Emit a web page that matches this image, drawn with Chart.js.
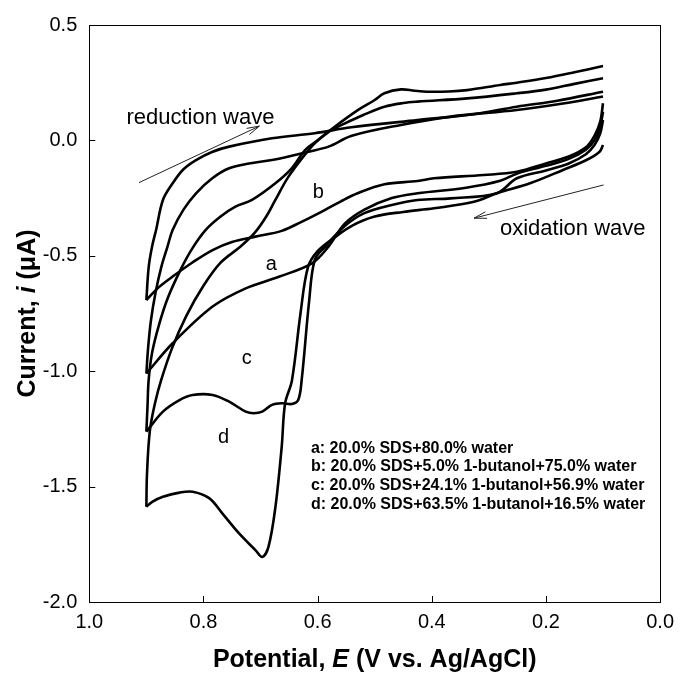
<!DOCTYPE html>
<html>
<head>
<meta charset="utf-8">
<script src="https://cdn.jsdelivr.net/npm/chart.js@4.4.1/dist/chart.umd.min.js"></script>
<style>
  html, body { margin: 0; padding: 0; background: #ffffff; }
  #wrap { width: 682px; height: 680px; }
</style>
</head>
<body>
<div id="wrap"><canvas id="cv" width="682" height="680"></canvas></div>
<script>
// Cyclic voltammograms: each sweep split into the forward (0.1 -> 0.9 V)
// and reverse (0.9 -> 0.1 V) branch. Potential E in V, current i in uA.

// a: 20.0% SDS + 80.0% water
const aFwdE = [0.100,0.105,0.115,0.130,0.160,0.200,0.250,0.280,0.340,0.425,0.470,0.518,0.552,0.581,0.610,0.668,0.726,0.784,0.854,0.900];
const aFwdI = [0.124,0.060,0.000,-0.040,-0.080,-0.110,-0.143,-0.175,-0.205,-0.229,-0.250,-0.300,-0.360,-0.460,-0.533,-0.591,-0.641,-0.720,-0.879,-1.010];
const aRevE = [0.900,0.897,0.892,0.884,0.874,0.863,0.854,0.835,0.813,0.785,0.755,0.720,0.680,0.616,0.581,0.540,0.454,0.367,0.251,0.170,0.100];
const aRevI = [-1.010,-0.900,-0.780,-0.660,-0.550,-0.460,-0.388,-0.300,-0.229,-0.165,-0.121,-0.100,-0.085,-0.049,-0.027,0.020,0.067,0.103,0.132,0.160,0.190];

// b: 20.0% SDS + 5.0% 1-butanol + 75.0% water
const bFwdE = [0.100,0.105,0.115,0.130,0.160,0.200,0.251,0.309,0.396,0.425,0.483,0.530,0.560,0.590,0.630,0.663,0.709,0.750,0.784,0.820,0.854,0.880,0.900];
const bFwdI = [0.161,0.080,0.020,-0.030,-0.070,-0.100,-0.136,-0.150,-0.164,-0.176,-0.190,-0.229,-0.265,-0.305,-0.355,-0.392,-0.417,-0.440,-0.475,-0.530,-0.590,-0.640,-0.692];
const bRevE = [0.900,0.896,0.890,0.883,0.871,0.854,0.835,0.813,0.785,0.755,0.680,0.605,0.541,0.425,0.330,0.251,0.180,0.100];
const bRevI = [-0.692,-0.550,-0.460,-0.388,-0.258,-0.186,-0.125,-0.085,-0.050,-0.027,0.009,0.031,0.057,0.088,0.112,0.146,0.172,0.211];

// c: 20.0% SDS + 24.1% 1-butanol + 56.9% water
const cFwdE = [0.100,0.105,0.115,0.130,0.160,0.200,0.251,0.286,0.367,0.425,0.470,0.518,0.552,0.587,0.605,0.615,0.628,0.634,0.645,0.662,0.680,0.697,0.712,0.726,0.755,0.784,0.819,0.842,0.871,0.900];
const cFwdI = [0.088,0.030,-0.020,-0.060,-0.100,-0.130,-0.164,-0.229,-0.251,-0.258,-0.280,-0.315,-0.370,-0.461,-0.518,-0.700,-1.040,-1.125,-1.142,-1.139,-1.146,-1.175,-1.182,-1.175,-1.132,-1.103,-1.103,-1.125,-1.175,-1.262];
const cRevE = [0.900,0.898,0.896,0.890,0.878,0.862,0.840,0.820,0.796,0.770,0.744,0.715,0.674,0.645,0.622,0.600,0.575,0.552,0.520,0.483,0.450,0.425,0.338,0.251,0.200,0.150,0.100];
const cRevI = [-1.262,-1.150,-1.038,-0.920,-0.800,-0.680,-0.560,-0.470,-0.388,-0.330,-0.287,-0.258,-0.186,-0.120,-0.042,0.000,0.045,0.074,0.110,0.146,0.162,0.168,0.182,0.204,0.220,0.245,0.269];

// d: 20.0% SDS + 63.5% 1-butanol + 16.5% water
const dFwdE = [0.100,0.106,0.129,0.170,0.228,0.286,0.326,0.396,0.450,0.500,0.540,0.570,0.600,0.617,0.630,0.645,0.657,0.663,0.674,0.686,0.697,0.709,0.738,0.767,0.790,0.819,0.842,0.871,0.889,0.900];
const dFwdI = [-0.020,-0.049,-0.085,-0.128,-0.186,-0.229,-0.266,-0.294,-0.310,-0.330,-0.370,-0.420,-0.480,-0.550,-0.750,-1.040,-1.140,-1.330,-1.590,-1.760,-1.805,-1.775,-1.702,-1.616,-1.550,-1.522,-1.526,-1.544,-1.565,-1.587];
const dRevE = [0.900,0.899,0.894,0.885,0.874,0.855,0.830,0.800,0.770,0.735,0.710,0.690,0.674,0.651,0.616,0.599,0.570,0.529,0.500,0.483,0.454,0.430,0.408,0.370,0.338,0.280,0.251,0.200,0.150,0.100];
const dRevI = [-1.587,-1.450,-1.260,-1.140,-1.038,-0.900,-0.760,-0.630,-0.530,-0.460,-0.400,-0.330,-0.258,-0.157,-0.042,0.002,0.059,0.132,0.175,0.204,0.221,0.215,0.211,0.212,0.218,0.240,0.250,0.270,0.295,0.322];

// Axis ticks
const xTicks = [1.0, 0.8, 0.6, 0.4, 0.2, 0.0];
const yTicks = [-2.0, -1.5, -1.0, -0.5, 0.0, 0.5];

// Curve letters placed in data coordinates
const curveLetters = ['a', 'b', 'c', 'd'];
const letterE = [0.681, 0.599, 0.724, 0.765];
const letterI = [-0.536, -0.227, -0.944, -1.287];

// Sweep-direction notes and their arrows (tail -> head, data coordinates)
const noteText = ['reduction wave', 'oxidation wave'];
const noteE = [0.935, 0.2805];
const noteI = [0.099, -0.385];
const arrowTailE = [0.913, 0.099];
const arrowTailI = [-0.183, -0.193];
const arrowHeadE = [0.702, 0.326];
const arrowHeadI = [0.062, -0.337];

// Composition key (anchor of first line, data coordinates)
const keyLines = [
  'a: 20.0% SDS+80.0% water',
  'b: 20.0% SDS+5.0% 1-butanol+75.0% water',
  'c: 20.0% SDS+24.1% 1-butanol+56.9% water',
  'd: 20.0% SDS+63.5% 1-butanol+16.5% water'
];
const keyE = 0.6117;
const keyI = -1.334;

const FONT = '"Liberation Sans", Arial, Helvetica, sans-serif';

function pts(E, I) { return E.map((e, k) => ({ x: e, y: I[k] })); }
function branch(E, I) {
  return {
    data: pts(E, I),
    showLine: true,
    borderColor: '#000000',
    borderWidth: 2.6,
    pointRadius: 0,
    tension: 0.35,
    fill: false
  };
}

const datasets = [
  branch(aFwdE, aFwdI), branch(aRevE, aRevI),
  branch(bFwdE, bFwdI), branch(bRevE, bRevI),
  branch(cFwdE, cFwdI), branch(cRevE, cRevI),
  branch(dFwdE, dFwdI), branch(dRevE, dRevI)
];

function arrow(ctx, x0, y0, x1, y1) {
  const ang = Math.atan2(y1 - y0, x1 - x0);
  const L = 13, spread = 0.26;
  ctx.beginPath();
  ctx.moveTo(x0, y0);
  ctx.lineTo(x1, y1);
  ctx.moveTo(x1 - L * Math.cos(ang - spread), y1 - L * Math.sin(ang - spread));
  ctx.lineTo(x1, y1);
  ctx.lineTo(x1 - L * Math.cos(ang + spread), y1 - L * Math.sin(ang + spread));
  ctx.stroke();
}

function mixedText(ctx, parts, cx, cy) {
  let total = 0;
  parts.forEach(p => { ctx.font = p.f; total += ctx.measureText(p.t).width; });
  let x = cx - total / 2;
  ctx.textAlign = 'left';
  ctx.textBaseline = 'middle';
  parts.forEach(p => { ctx.font = p.f; ctx.fillText(p.t, x, cy); x += ctx.measureText(p.t).width; });
}

const decor = {
  id: 'decor',
  afterDatasetsDraw(chart) {
    const { ctx, chartArea: ca, scales: { x, y } } = chart;
    ctx.save();
    ctx.fillStyle = '#000';
    ctx.strokeStyle = '#000';

    // frame
    ctx.lineWidth = 1;
    ctx.strokeRect(Math.round(ca.left) + 0.5, Math.round(ca.top) + 0.5,
                   Math.round(ca.right - ca.left), Math.round(ca.bottom - ca.top));

    // inward tick marks
    ctx.beginPath();
    xTicks.forEach(v => {
      const px = Math.round(x.getPixelForValue(v)) + 0.5;
      ctx.moveTo(px, ca.bottom); ctx.lineTo(px, ca.bottom - 6);
    });
    yTicks.forEach(v => {
      const py = Math.round(y.getPixelForValue(v)) + 0.5;
      ctx.moveTo(ca.left, py); ctx.lineTo(ca.left + 6, py);
    });
    ctx.stroke();

    // curve letters
    ctx.font = '20px ' + FONT;
    ctx.textAlign = 'center';
    ctx.textBaseline = 'middle';
    curveLetters.forEach((t, k) => {
      ctx.fillText(t, x.getPixelForValue(letterE[k]), y.getPixelForValue(letterI[k]));
    });

    // sweep notes
    ctx.font = '22px ' + FONT;
    ctx.textAlign = 'left';
    noteText.forEach((t, k) => {
      ctx.fillText(t, x.getPixelForValue(noteE[k]), y.getPixelForValue(noteI[k]));
    });
    ctx.strokeStyle = '#222';
    ctx.lineWidth = 1;
    arrowTailE.forEach((e, k) => {
      arrow(ctx, x.getPixelForValue(e), y.getPixelForValue(arrowTailI[k]),
                 x.getPixelForValue(arrowHeadE[k]), y.getPixelForValue(arrowHeadI[k]));
    });

    // composition key
    ctx.font = 'bold 16px ' + FONT;
    ctx.fillStyle = '#000';
    ctx.textAlign = 'left';
    const kx = x.getPixelForValue(keyE);
    const ky = y.getPixelForValue(keyI);
    keyLines.forEach((t, k) => ctx.fillText(t, kx, ky + k * 18.7));

    // axis titles
    const tf = 'bold 25px ' + FONT, tfi = 'italic bold 25px ' + FONT;
    mixedText(ctx, [
      { t: 'Potential, ', f: tf }, { t: 'E', f: tfi }, { t: ' (V vs. Ag/AgCl)', f: tf }
    ], (ca.left + ca.right) / 2, 660);

    ctx.save();
    ctx.translate(28, (ca.top + ca.bottom) / 2);
    ctx.rotate(-Math.PI / 2);
    mixedText(ctx, [
      { t: 'Current, ', f: tf }, { t: 'i', f: tfi }, { t: ' (\u03BCA)', f: tf }
    ], 0, 0);
    ctx.restore();

    ctx.restore();
  }
};

new Chart(document.getElementById('cv'), {
  type: 'scatter',
  data: { datasets },
  options: {
    responsive: false,
    animation: false,
    devicePixelRatio: 1,
    layout: { padding: { left: 0, top: 25, right: 17.7, bottom: 0 } },
    plugins: { legend: { display: false }, tooltip: { enabled: false } },
    scales: {
      x: {
        type: 'linear', reverse: true, min: 0, max: 1,
        afterBuildTicks: s => { s.ticks = xTicks.map(v => ({ value: v })); },
        ticks: { callback: v => Number(v).toFixed(1), color: '#000', font: { family: FONT, size: 20 }, padding: 8, maxRotation: 0 },
        grid: { display: false, drawTicks: false },
        border: { display: false },
        afterFit: s => { s.height = 78; }
      },
      y: {
        type: 'linear', min: -2, max: 0.5,
        afterBuildTicks: s => { s.ticks = yTicks.map(v => ({ value: v })); },
        ticks: { callback: v => Number(v).toFixed(1), color: '#000', font: { family: FONT, size: 20 }, padding: 12 },
        grid: { display: false, drawTicks: false },
        border: { display: false },
        afterFit: s => { s.width = 89.3; }
      }
    }
  },
  plugins: [decor]
});
</script>
</body>
</html>
